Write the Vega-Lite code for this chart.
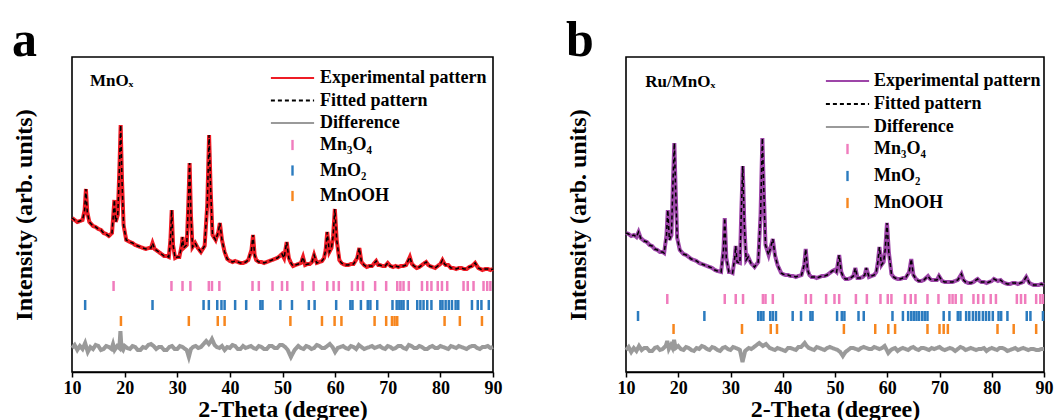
{
"$schema": "https://vega.github.io/schema/vega-lite/v6.json",
"padding": {"left": 11, "top": 15, "right": 2, "bottom": 0},
"spacing": 62,
"resolve": {"scale": {"stroke": "independent", "strokeDash": "independent", "color": "independent"}, "legend": {"stroke": "independent", "strokeDash": "independent", "color": "independent"}},
"config": {
 "font": "Liberation Serif",
 "view": {"stroke": "black", "strokeWidth": 1.6},
 "axis": {"labelFont": "Liberation Serif", "labelFontWeight": "bold", "labelFontSize": 18, "labelColor": "black", "titleFont": "Liberation Serif", "titleFontWeight": "bold", "titleFontSize": 24, "titleColor": "black", "grid": false, "domainColor": "black", "tickColor": "black", "domainWidth": 1.6, "tickWidth": 1.5},
 "title": {"font": "Liberation Serif", "fontWeight": "bold", "fontSize": 50, "color": "black", "anchor": "start", "frame": "bounds", "offset": -9}
},
"datasets": {
 "patA": [
{"t":10,"e":154},{"t":10.5,"e":152},{"t":11,"e":150},{"t":11.5,"e":151},{"t":12,"e":152},{"t":12.4,"e":162},{"t":12.65,"e":183},{"t":12.9,"e":160},{"t":13.3,"e":150},{"t":14,"e":146},{"t":14.5,"e":145},{"t":15,"e":143},{"t":15.5,"e":142},{"t":16,"e":139},{"t":16.5,"e":138},{"t":17,"e":136},{"t":17.6,"e":139},{"t":17.85,"e":157},{"t":18.05,"e":172},{"t":18.3,"e":150},{"t":18.7,"e":157},{"t":19.0,"e":202},{"t":19.25,"e":247},{"t":19.5,"e":192},{"t":19.8,"e":147},{"t":20.3,"e":132},{"t":21,"e":130},{"t":21.5,"e":129},{"t":22,"e":127},{"t":22.5,"e":126},{"t":23,"e":125},{"t":23.5,"e":124},{"t":24,"e":123},{"t":24.6,"e":124},{"t":25,"e":124},{"t":25.3,"e":129},{"t":25.7,"e":123},{"t":26.5,"e":120},{"t":27,"e":118},{"t":27.5,"e":116},{"t":28,"e":116},{"t":28.4,"e":115},{"t":28.7,"e":132},{"t":28.95,"e":162},{"t":29.2,"e":127},{"t":29.6,"e":114},{"t":30,"e":115},{"t":30.4,"e":115},{"t":30.85,"e":127},{"t":31.0,"e":135},{"t":31.2,"e":124},{"t":31.8,"e":127},{"t":32.1,"e":167},{"t":32.35,"e":209},{"t":32.6,"e":157},{"t":32.9,"e":125},{"t":33.4,"e":129},{"t":33.9,"e":124},{"t":34.5,"e":120},{"t":35.2,"e":126},{"t":35.7,"e":167},{"t":36.05,"e":237},{"t":36.35,"e":182},{"t":36.7,"e":137},{"t":37.3,"e":132},{"t":37.8,"e":140},{"t":38.1,"e":149},{"t":38.5,"e":132},{"t":39,"e":120},{"t":39.5,"e":113},{"t":40,"e":111},{"t":40.5,"e":110},{"t":41,"e":111},{"t":41.5,"e":110},{"t":42,"e":109},{"t":42.5,"e":109},{"t":43,"e":110},{"t":43.5,"e":112},{"t":44.1,"e":122},{"t":44.4,"e":137},{"t":44.7,"e":117},{"t":45,"e":112},{"t":45.5,"e":110},{"t":46,"e":110},{"t":46.5,"e":109},{"t":47,"e":110},{"t":47.5,"e":111},{"t":48,"e":112},{"t":48.5,"e":113},{"t":49,"e":114},{"t":49.5,"e":116},{"t":49.9,"e":118},{"t":50.3,"e":114},{"t":50.8,"e":130},{"t":51.2,"e":114},{"t":51.6,"e":109},{"t":52,"e":106},{"t":52.5,"e":107},{"t":53,"e":108},{"t":53.5,"e":109},{"t":53.9,"e":115},{"t":54.3,"e":107},{"t":54.8,"e":108},{"t":55.2,"e":108},{"t":55.6,"e":110},{"t":56.0,"e":117},{"t":56.5,"e":109},{"t":57,"e":110},{"t":57.5,"e":111},{"t":57.9,"e":114},{"t":58.2,"e":122},{"t":58.5,"e":140},{"t":58.9,"e":120},{"t":59.3,"e":124},{"t":59.6,"e":135},{"t":59.95,"e":163},{"t":60.3,"e":132},{"t":60.8,"e":112},{"t":61.2,"e":109},{"t":61.5,"e":108},{"t":62,"e":107},{"t":62.5,"e":107},{"t":63,"e":108},{"t":63.5,"e":108},{"t":64.2,"e":114},{"t":64.6,"e":124},{"t":65.0,"e":110},{"t":65.5,"e":107},{"t":66,"e":105},{"t":66.5,"e":106},{"t":67,"e":106},{"t":67.8,"e":111},{"t":68.2,"e":107},{"t":68.5,"e":107},{"t":69,"e":106},{"t":69.5,"e":106},{"t":70,"e":109},{"t":70.5,"e":106},{"t":71,"e":105},{"t":71.5,"e":106},{"t":72,"e":105},{"t":72.5,"e":106},{"t":73,"e":106},{"t":73.5,"e":107},{"t":74.2,"e":115},{"t":74.6,"e":108},{"t":75,"e":106},{"t":75.5,"e":104},{"t":76,"e":105},{"t":76.5,"e":107},{"t":77,"e":109},{"t":77.3,"e":110},{"t":77.7,"e":107},{"t":78,"e":106},{"t":78.5,"e":105},{"t":79,"e":104},{"t":79.5,"e":106},{"t":80,"e":108},{"t":80.4,"e":112},{"t":80.8,"e":108},{"t":81,"e":107},{"t":81.5,"e":107},{"t":82,"e":104},{"t":82.5,"e":104},{"t":83,"e":103},{"t":83.5,"e":104},{"t":84,"e":104},{"t":84.5,"e":103},{"t":85,"e":103},{"t":85.5,"e":105},{"t":86,"e":106},{"t":86.6,"e":109},{"t":87.2,"e":104},{"t":87.6,"e":103},{"t":88,"e":102},{"t":88.5,"e":103},{"t":89,"e":103},{"t":89.5,"e":102},{"t":90,"e":103}
 ],
 "diffA": [
{"t":10,"d":24},{"t":10.5,"d":27},{"t":11,"d":22},{"t":11.5,"d":26},{"t":12,"d":23},{"t":12.5,"d":29},{"t":13,"d":20},{"t":13.5,"d":25},{"t":14,"d":23},{"t":14.5,"d":27},{"t":15,"d":26},{"t":15.5,"d":22},{"t":16,"d":23},{"t":16.5,"d":26},{"t":17,"d":25},{"t":17.5,"d":23},{"t":17.8,"d":28},{"t":18.1,"d":22},{"t":18.6,"d":26},{"t":19.0,"d":24},{"t":19.2,"d":41},{"t":19.4,"d":24},{"t":19.7,"d":22},{"t":20,"d":26},{"t":20.5,"d":24},{"t":21,"d":23},{"t":21.5,"d":26},{"t":22,"d":25},{"t":22.5,"d":22},{"t":23,"d":22},{"t":23.5,"d":25},{"t":24,"d":24},{"t":24.5,"d":27},{"t":25,"d":28},{"t":25.5,"d":26},{"t":26,"d":23},{"t":26.5,"d":25},{"t":27,"d":25},{"t":27.5,"d":22},{"t":28,"d":22},{"t":28.5,"d":25},{"t":29,"d":26},{"t":29.5,"d":23},{"t":30,"d":23},{"t":30.5,"d":26},{"t":31,"d":25},{"t":31.5,"d":23},{"t":31.8,"d":22},{"t":32.2,"d":15},{"t":32.6,"d":23},{"t":33,"d":25},{"t":33.5,"d":26},{"t":34,"d":24},{"t":34.5,"d":25},{"t":35,"d":28},{"t":35.5,"d":31},{"t":36,"d":28},{"t":36.3,"d":30},{"t":36.6,"d":33},{"t":37.1,"d":27},{"t":37.5,"d":25},{"t":38,"d":24},{"t":38.5,"d":26},{"t":39,"d":22},{"t":39.5,"d":25},{"t":40,"d":24},{"t":40.5,"d":27},{"t":41,"d":26},{"t":41.5,"d":23},{"t":42,"d":23},{"t":42.5,"d":26},{"t":43,"d":24},{"t":43.5,"d":25},{"t":44,"d":26},{"t":44.5,"d":24},{"t":45,"d":23},{"t":45.5,"d":26},{"t":46,"d":25},{"t":46.5,"d":23},{"t":47,"d":23},{"t":47.5,"d":26},{"t":48,"d":26},{"t":48.5,"d":24},{"t":49,"d":24},{"t":49.5,"d":27},{"t":50,"d":27},{"t":50.5,"d":25},{"t":51,"d":22},{"t":51.6,"d":15},{"t":52,"d":19},{"t":52.3,"d":22},{"t":53,"d":26},{"t":53.5,"d":24},{"t":54,"d":23},{"t":54.5,"d":26},{"t":55,"d":25},{"t":55.5,"d":23},{"t":56,"d":24},{"t":56.5,"d":27},{"t":57,"d":26},{"t":57.5,"d":24},{"t":58,"d":24},{"t":58.5,"d":26},{"t":59,"d":28},{"t":59.5,"d":25},{"t":60,"d":20},{"t":60.5,"d":24},{"t":61,"d":25},{"t":61.5,"d":26},{"t":62,"d":24},{"t":62.5,"d":23},{"t":63,"d":26},{"t":63.5,"d":25},{"t":64,"d":23},{"t":64.5,"d":27},{"t":65,"d":25},{"t":65.5,"d":23},{"t":66,"d":24},{"t":66.5,"d":25},{"t":67,"d":26},{"t":67.5,"d":24},{"t":68,"d":25},{"t":68.5,"d":26},{"t":69,"d":24},{"t":69.5,"d":23},{"t":70,"d":26},{"t":70.5,"d":25},{"t":71,"d":23},{"t":71.5,"d":24},{"t":72,"d":26},{"t":72.5,"d":26},{"t":73,"d":24},{"t":73.5,"d":23},{"t":74,"d":27},{"t":74.5,"d":26},{"t":75,"d":24},{"t":75.5,"d":24},{"t":76,"d":26},{"t":76.5,"d":25},{"t":77,"d":23},{"t":77.5,"d":23},{"t":78,"d":25},{"t":78.5,"d":26},{"t":79,"d":24},{"t":79.5,"d":24},{"t":80,"d":26},{"t":80.5,"d":25},{"t":81,"d":24},{"t":81.5,"d":23},{"t":82,"d":26},{"t":82.5,"d":25},{"t":83,"d":24},{"t":83.5,"d":26},{"t":84,"d":25},{"t":84.5,"d":24},{"t":85,"d":23},{"t":85.5,"d":25},{"t":86,"d":26},{"t":86.5,"d":26},{"t":87,"d":24},{"t":87.5,"d":23},{"t":88,"d":25},{"t":88.5,"d":25},{"t":89,"d":26},{"t":89.5,"d":24},{"t":90,"d":25}
 ],
 "ticksA": [
{"p":"Mn₃O₄","t":17.9},{"p":"Mn₃O₄","t":28.9},{"p":"Mn₃O₄","t":31.0},{"p":"Mn₃O₄","t":32.5},{"p":"Mn₃O₄","t":36.0},{"p":"Mn₃O₄","t":36.6},{"p":"Mn₃O₄","t":38.0},{"p":"Mn₃O₄","t":44.3},{"p":"Mn₃O₄","t":45.5},{"p":"Mn₃O₄","t":48.1},{"p":"Mn₃O₄","t":49.9},{"p":"Mn₃O₄","t":50.9},{"p":"Mn₃O₄","t":53.8},{"p":"Mn₃O₄","t":55.9},{"p":"Mn₃O₄","t":58.5},{"p":"Mn₃O₄","t":59.7},{"p":"Mn₃O₄","t":60.7},{"p":"Mn₃O₄","t":63.2},{"p":"Mn₃O₄","t":64.3},{"p":"Mn₃O₄","t":65.3},{"p":"Mn₃O₄","t":67.6},{"p":"Mn₃O₄","t":69.7},{"p":"Mn₃O₄","t":71.8},{"p":"Mn₃O₄","t":72.4},{"p":"Mn₃O₄","t":73.0},{"p":"Mn₃O₄","t":74.0},{"p":"Mn₃O₄","t":76.5},{"p":"Mn₃O₄","t":77.5},{"p":"Mn₃O₄","t":78.3},{"p":"Mn₃O₄","t":79.5},{"p":"Mn₃O₄","t":80.3},{"p":"Mn₃O₄","t":81.3},{"p":"Mn₃O₄","t":84.4},{"p":"Mn₃O₄","t":85.2},{"p":"Mn₃O₄","t":86.3},{"p":"Mn₃O₄","t":88.2},{"p":"Mn₃O₄","t":88.9},{"p":"Mn₃O₄","t":89.5},
{"p":"MnO₂","t":12.5},{"p":"MnO₂","t":25.3},{"p":"MnO₂","t":35.0},{"p":"MnO₂","t":36.0},{"p":"MnO₂","t":37.6},{"p":"MnO₂","t":38.4},{"p":"MnO₂","t":39.0},{"p":"MnO₂","t":41.0},{"p":"MnO₂","t":43.1},{"p":"MnO₂","t":45.8},{"p":"MnO₂","t":46.2},{"p":"MnO₂","t":49.6},{"p":"MnO₂","t":51.8},{"p":"MnO₂","t":55.0},{"p":"MnO₂","t":56.1},{"p":"MnO₂","t":60.2},{"p":"MnO₂","t":62.9},{"p":"MnO₂","t":63.3},{"p":"MnO₂","t":64.9},{"p":"MnO₂","t":66.2},{"p":"MnO₂","t":66.7},{"p":"MnO₂","t":68.0},{"p":"MnO₂","t":70.9},{"p":"MnO₂","t":71.7},{"p":"MnO₂","t":72.2},{"p":"MnO₂","t":72.6},{"p":"MnO₂","t":73.0},{"p":"MnO₂","t":73.8},{"p":"MnO₂","t":75.6},{"p":"MnO₂","t":76.2},{"p":"MnO₂","t":76.8},{"p":"MnO₂","t":77.5},{"p":"MnO₂","t":78.3},{"p":"MnO₂","t":80.0},{"p":"MnO₂","t":80.4},{"p":"MnO₂","t":81.0},{"p":"MnO₂","t":81.6},{"p":"MnO₂","t":82.2},{"p":"MnO₂","t":82.9},{"p":"MnO₂","t":83.4},{"p":"MnO₂","t":86.0},{"p":"MnO₂","t":87.1},{"p":"MnO₂","t":87.8},{"p":"MnO₂","t":89.2},
{"p":"MnOOH","t":19.3},{"p":"MnOOH","t":32.2},{"p":"MnOOH","t":37.7},{"p":"MnOOH","t":39.0},{"p":"MnOOH","t":51.5},{"p":"MnOOH","t":57.5},{"p":"MnOOH","t":59.9},{"p":"MnOOH","t":61.2},{"p":"MnOOH","t":67.5},{"p":"MnOOH","t":69.7},{"p":"MnOOH","t":70.8},{"p":"MnOOH","t":71.3},{"p":"MnOOH","t":71.8},{"p":"MnOOH","t":80.8},{"p":"MnOOH","t":83.7},{"p":"MnOOH","t":87.9}
 ],
 "patB": [
{"t":10,"e":139},{"t":10.5,"e":138},{"t":11,"e":136},{"t":11.5,"e":137},{"t":12,"e":135},{"t":12.4,"e":140},{"t":12.8,"e":134},{"t":13.5,"e":131},{"t":14,"e":130},{"t":14.5,"e":127},{"t":15,"e":126},{"t":15.5,"e":123},{"t":16,"e":122},{"t":16.5,"e":120},{"t":17,"e":120},{"t":17.3,"e":119},{"t":17.75,"e":137},{"t":18.0,"e":162},{"t":18.3,"e":132},{"t":18.7,"e":137},{"t":19.0,"e":192},{"t":19.25,"e":229},{"t":19.5,"e":182},{"t":19.8,"e":134},{"t":20.3,"e":122},{"t":21,"e":118},{"t":21.5,"e":117},{"t":22,"e":115},{"t":22.5,"e":113},{"t":23,"e":112},{"t":23.5,"e":111},{"t":24,"e":109},{"t":24.5,"e":108},{"t":25,"e":107},{"t":25.5,"e":106},{"t":26,"e":105},{"t":26.5,"e":104},{"t":27,"e":102},{"t":27.5,"e":101},{"t":28.2,"e":100},{"t":28.65,"e":122},{"t":28.9,"e":154},{"t":29.2,"e":114},{"t":29.7,"e":100},{"t":30,"e":100},{"t":30.4,"e":99},{"t":30.8,"e":114},{"t":31.0,"e":126},{"t":31.25,"e":110},{"t":31.8,"e":109},{"t":32.05,"e":157},{"t":32.35,"e":206},{"t":32.65,"e":147},{"t":33.0,"e":112},{"t":33.4,"e":115},{"t":33.9,"e":109},{"t":34.6,"e":105},{"t":35.3,"e":110},{"t":35.75,"e":157},{"t":36.1,"e":234},{"t":36.4,"e":177},{"t":36.7,"e":127},{"t":37.3,"e":117},{"t":37.8,"e":127},{"t":38.1,"e":133},{"t":38.5,"e":117},{"t":39,"e":107},{"t":39.7,"e":99},{"t":40,"e":98},{"t":40.5,"e":97},{"t":41,"e":97},{"t":41.5,"e":96},{"t":42,"e":96},{"t":42.5,"e":95},{"t":43,"e":96},{"t":43.6,"e":97},{"t":44.1,"e":107},{"t":44.4,"e":123},{"t":44.75,"e":102},{"t":45.1,"e":97},{"t":45.5,"e":95},{"t":46,"e":95},{"t":46.5,"e":94},{"t":47,"e":95},{"t":47.5,"e":96},{"t":48,"e":96},{"t":48.5,"e":97},{"t":49,"e":99},{"t":49.5,"e":101},{"t":49.9,"e":102},{"t":50.3,"e":100},{"t":50.8,"e":117},{"t":51.2,"e":100},{"t":51.6,"e":95},{"t":52,"e":93},{"t":52.5,"e":93},{"t":53,"e":94},{"t":53.5,"e":96},{"t":53.9,"e":104},{"t":54.3,"e":94},{"t":54.8,"e":94},{"t":55.3,"e":95},{"t":55.7,"e":97},{"t":56.0,"e":104},{"t":56.5,"e":95},{"t":57,"e":96},{"t":57.5,"e":97},{"t":57.9,"e":100},{"t":58.2,"e":110},{"t":58.5,"e":125},{"t":58.9,"e":107},{"t":59.3,"e":110},{"t":59.6,"e":122},{"t":59.95,"e":149},{"t":60.3,"e":120},{"t":60.8,"e":98},{"t":61.2,"e":95},{"t":61.5,"e":94},{"t":62,"e":93},{"t":62.5,"e":93},{"t":63,"e":94},{"t":63.5,"e":94},{"t":64.2,"e":100},{"t":64.6,"e":113},{"t":65.0,"e":97},{"t":65.5,"e":93},{"t":66,"e":91},{"t":66.5,"e":91},{"t":67,"e":92},{"t":67.8,"e":96},{"t":68.2,"e":93},{"t":68.5,"e":92},{"t":69,"e":92},{"t":69.5,"e":92},{"t":69.9,"e":96},{"t":70.5,"e":91},{"t":71,"e":90},{"t":71.5,"e":90},{"t":72,"e":90},{"t":72.5,"e":90},{"t":73,"e":91},{"t":73.5,"e":92},{"t":74.2,"e":98},{"t":74.6,"e":92},{"t":75,"e":90},{"t":75.5,"e":89},{"t":76,"e":89},{"t":76.5,"e":90},{"t":77,"e":92},{"t":77.3,"e":93},{"t":77.7,"e":91},{"t":78,"e":90},{"t":78.5,"e":90},{"t":79,"e":89},{"t":79.5,"e":90},{"t":80,"e":91},{"t":80.4,"e":93},{"t":80.8,"e":92},{"t":81.2,"e":91},{"t":81.7,"e":92},{"t":82.1,"e":90},{"t":82.5,"e":89},{"t":83,"e":88},{"t":83.5,"e":88},{"t":84,"e":89},{"t":84.5,"e":89},{"t":85,"e":88},{"t":85.5,"e":89},{"t":86,"e":90},{"t":86.6,"e":95},{"t":87.2,"e":89},{"t":87.6,"e":88},{"t":88,"e":87},{"t":88.5,"e":87},{"t":89,"e":87},{"t":89.5,"e":88},{"t":90,"e":87}
 ],
 "diffB": [
{"t":10,"d":22},{"t":10.5,"d":25},{"t":11,"d":20},{"t":11.5,"d":24},{"t":12,"d":21},{"t":12.5,"d":26},{"t":13,"d":22},{"t":13.5,"d":24},{"t":14,"d":24},{"t":14.5,"d":21},{"t":15,"d":21},{"t":15.5,"d":24},{"t":16,"d":25},{"t":16.5,"d":22},{"t":17,"d":23},{"t":17.6,"d":26},{"t":17.9,"d":31},{"t":18.2,"d":23},{"t":18.6,"d":27},{"t":18.9,"d":24},{"t":19.2,"d":32},{"t":19.5,"d":24},{"t":20,"d":26},{"t":20.5,"d":23},{"t":21,"d":22},{"t":21.5,"d":25},{"t":22,"d":24},{"t":22.5,"d":22},{"t":23,"d":21},{"t":23.5,"d":24},{"t":24,"d":23},{"t":24.5,"d":26},{"t":25,"d":25},{"t":25.5,"d":23},{"t":26,"d":22},{"t":26.5,"d":25},{"t":27,"d":24},{"t":27.5,"d":22},{"t":28,"d":21},{"t":28.5,"d":24},{"t":29,"d":25},{"t":29.5,"d":23},{"t":30,"d":22},{"t":30.5,"d":25},{"t":31,"d":24},{"t":31.5,"d":23},{"t":31.8,"d":22},{"t":32.3,"d":10},{"t":32.8,"d":21},{"t":33.5,"d":24},{"t":34,"d":23},{"t":34.5,"d":25},{"t":35,"d":27},{"t":35.5,"d":29},{"t":36.2,"d":26},{"t":36.8,"d":28},{"t":37.5,"d":24},{"t":38,"d":23},{"t":38.5,"d":22},{"t":39,"d":24},{"t":39.5,"d":23},{"t":40,"d":22},{"t":40.5,"d":21},{"t":41,"d":24},{"t":41.5,"d":24},{"t":42,"d":23},{"t":42.5,"d":22},{"t":43,"d":25},{"t":43.5,"d":25},{"t":44.2,"d":29},{"t":44.6,"d":26},{"t":45,"d":24},{"t":45.5,"d":23},{"t":46,"d":22},{"t":46.5,"d":25},{"t":47,"d":24},{"t":47.5,"d":23},{"t":48,"d":22},{"t":48.5,"d":24},{"t":49,"d":25},{"t":49.5,"d":24},{"t":50,"d":23},{"t":50.5,"d":22},{"t":51,"d":20},{"t":51.5,"d":16},{"t":52,"d":20},{"t":52.5,"d":22},{"t":53,"d":24},{"t":53.5,"d":24},{"t":54,"d":23},{"t":54.5,"d":22},{"t":55,"d":24},{"t":55.5,"d":25},{"t":56,"d":24},{"t":56.5,"d":23},{"t":57,"d":23},{"t":57.5,"d":25},{"t":58,"d":24},{"t":58.5,"d":23},{"t":59,"d":24},{"t":59.5,"d":26},{"t":60.2,"d":19},{"t":60.7,"d":22},{"t":61,"d":23},{"t":61.5,"d":24},{"t":62,"d":21},{"t":62.5,"d":23},{"t":63,"d":24},{"t":63.5,"d":23},{"t":64,"d":22},{"t":64.5,"d":24},{"t":65,"d":25},{"t":65.5,"d":23},{"t":66,"d":22},{"t":66.5,"d":24},{"t":67,"d":24},{"t":67.5,"d":23},{"t":68,"d":22},{"t":68.5,"d":24},{"t":69,"d":23},{"t":69.5,"d":24},{"t":70,"d":25},{"t":70.5,"d":23},{"t":71,"d":22},{"t":71.5,"d":23},{"t":72,"d":24},{"t":72.5,"d":23},{"t":73,"d":21},{"t":73.5,"d":23},{"t":74,"d":25},{"t":74.5,"d":24},{"t":75,"d":22},{"t":75.5,"d":23},{"t":76,"d":24},{"t":76.5,"d":23},{"t":77,"d":22},{"t":77.5,"d":23},{"t":78,"d":23},{"t":78.5,"d":24},{"t":79,"d":21},{"t":79.5,"d":23},{"t":80,"d":24},{"t":80.5,"d":23},{"t":81,"d":22},{"t":81.5,"d":24},{"t":82,"d":24},{"t":82.5,"d":23},{"t":83,"d":21},{"t":83.5,"d":22},{"t":84,"d":23},{"t":84.5,"d":24},{"t":85,"d":22},{"t":85.5,"d":23},{"t":86,"d":24},{"t":86.5,"d":23},{"t":87,"d":22},{"t":87.5,"d":23},{"t":88,"d":23},{"t":88.5,"d":22},{"t":89,"d":22},{"t":89.5,"d":23},{"t":90,"d":23}
 ],
 "ticksB": [
{"p":"Mn₃O₄","t":17.9},{"p":"Mn₃O₄","t":28.9},{"p":"Mn₃O₄","t":31.0},{"p":"Mn₃O₄","t":32.4},{"p":"Mn₃O₄","t":36.2},{"p":"Mn₃O₄","t":36.7},{"p":"Mn₃O₄","t":38.1},{"p":"Mn₃O₄","t":44.4},{"p":"Mn₃O₄","t":45.4},{"p":"Mn₃O₄","t":48.3},{"p":"Mn₃O₄","t":49.9},{"p":"Mn₃O₄","t":50.8},{"p":"Mn₃O₄","t":54.0},{"p":"Mn₃O₄","t":56.1},{"p":"Mn₃O₄","t":58.7},{"p":"Mn₃O₄","t":60.1},{"p":"Mn₃O₄","t":60.8},{"p":"Mn₃O₄","t":63.4},{"p":"Mn₃O₄","t":64.5},{"p":"Mn₃O₄","t":65.4},{"p":"Mn₃O₄","t":67.7},{"p":"Mn₃O₄","t":69.8},{"p":"Mn₃O₄","t":71.9},{"p":"Mn₃O₄","t":72.5},{"p":"Mn₃O₄","t":73.1},{"p":"Mn₃O₄","t":74.2},{"p":"Mn₃O₄","t":76.5},{"p":"Mn₃O₄","t":77.4},{"p":"Mn₃O₄","t":78.4},{"p":"Mn₃O₄","t":79.8},{"p":"Mn₃O₄","t":80.8},{"p":"Mn₃O₄","t":84.8},{"p":"Mn₃O₄","t":85.6},{"p":"Mn₃O₄","t":86.4},{"p":"Mn₃O₄","t":88.5},{"p":"Mn₃O₄","t":89.3},{"p":"Mn₃O₄","t":89.8},
{"p":"MnO₂","t":12.3},{"p":"MnO₂","t":25.0},{"p":"MnO₂","t":35.3},{"p":"MnO₂","t":35.8},{"p":"MnO₂","t":36.3},{"p":"MnO₂","t":37.6},{"p":"MnO₂","t":38.1},{"p":"MnO₂","t":38.7},{"p":"MnO₂","t":41.9},{"p":"MnO₂","t":43.5},{"p":"MnO₂","t":45.3},{"p":"MnO₂","t":45.7},{"p":"MnO₂","t":50.4},{"p":"MnO₂","t":51.3},{"p":"MnO₂","t":51.8},{"p":"MnO₂","t":54.5},{"p":"MnO₂","t":55.5},{"p":"MnO₂","t":61.0},{"p":"MnO₂","t":63.0},{"p":"MnO₂","t":64.0},{"p":"MnO₂","t":64.6},{"p":"MnO₂","t":65.1},{"p":"MnO₂","t":65.6},{"p":"MnO₂","t":66.1},{"p":"MnO₂","t":66.7},{"p":"MnO₂","t":67.2},{"p":"MnO₂","t":67.7},{"p":"MnO₂","t":70.8},{"p":"MnO₂","t":71.9},{"p":"MnO₂","t":73.5},{"p":"MnO₂","t":74.0},{"p":"MnO₂","t":75.1},{"p":"MnO₂","t":75.7},{"p":"MnO₂","t":76.4},{"p":"MnO₂","t":77.0},{"p":"MnO₂","t":77.6},{"p":"MnO₂","t":78.3},{"p":"MnO₂","t":78.9},{"p":"MnO₂","t":79.5},{"p":"MnO₂","t":80.2},{"p":"MnO₂","t":81.3},{"p":"MnO₂","t":81.8},{"p":"MnO₂","t":83.0},{"p":"MnO₂","t":86.7},{"p":"MnO₂","t":87.4},{"p":"MnO₂","t":89.8},
{"p":"MnOOH","t":19.1},{"p":"MnOOH","t":32.2},{"p":"MnOOH","t":37.7},{"p":"MnOOH","t":38.9},{"p":"MnOOH","t":51.7},{"p":"MnOOH","t":57.7},{"p":"MnOOH","t":60.2},{"p":"MnOOH","t":61.5},{"p":"MnOOH","t":67.7},{"p":"MnOOH","t":70.0},{"p":"MnOOH","t":70.8},{"p":"MnOOH","t":71.6},{"p":"MnOOH","t":81.1},{"p":"MnOOH","t":84.2},{"p":"MnOOH","t":88.5}
 ]
},
"hconcat": [
 {
  "width": 421, "height": 315,
  "title": {"text": "a"},
  "layer": [
   {"data": {"name": "patA"}, "mark": {"type": "line", "strokeWidth": 4},
    "encoding": {
     "x": {"field": "t", "type": "quantitative", "scale": {"domain": [10, 90], "nice": false}, "axis": {"title": "2-Theta (degree)", "values": [10,20,30,40,50,60,70,80,90], "tickSize": 5, "labelPadding": 2, "titlePadding": 0, "labelFlush": false}},
     "y": {"field": "e", "type": "quantitative", "scale": {"domain": [0, 315], "nice": false}, "axis": {"title": "Intensity (arb. units)", "labels": false, "ticks": false, "domain": false, "titlePadding": 36}},
     "stroke": {"datum": "Experimental pattern", "scale": {"domain": ["Experimental pattern", "Fitted pattern", "Difference"], "range": ["#ee1c25", "#000000", "#9a9a9a"]},
       "legend": {"orient": "none", "legendX": 211.5, "legendY": 12, "title": null, "symbolType": "M-3.6,0H3.6", "symbolSize": 144, "symbolStrokeWidth": 2, "labelFont": "Liberation Serif", "labelFontWeight": "bold", "labelFontSize": 18, "labelColor": "black", "labelOffset": 18.5, "rowPadding": 4.5, "padding": 0, "labelLimit": 300}},
     "strokeDash": {"datum": "Experimental pattern", "scale": {"domain": ["Experimental pattern", "Fitted pattern", "Difference"], "range": [[1, 0], [4, 3], [1, 0]]},
       "legend": {"orient": "none", "legendX": 211.5, "legendY": 12, "title": null, "symbolType": "M-3.6,0H3.6", "symbolSize": 144, "symbolStrokeWidth": 2, "labelFont": "Liberation Serif", "labelFontWeight": "bold", "labelFontSize": 18, "labelColor": "black", "labelOffset": 18.5, "rowPadding": 4.5, "padding": 0, "labelLimit": 300}}
    }},
   {"data": {"name": "patA"}, "mark": {"type": "line", "strokeWidth": 1.5},
    "encoding": {"x": {"field": "t", "type": "quantitative"}, "y": {"field": "e", "type": "quantitative"}, "stroke": {"datum": "Fitted pattern"}, "strokeDash": {"datum": "Fitted pattern"}}},
   {"data": {"name": "diffA"}, "mark": {"type": "line", "strokeWidth": 4},
    "encoding": {"x": {"field": "t", "type": "quantitative"}, "y": {"field": "d", "type": "quantitative"}, "stroke": {"datum": "Difference"}, "strokeDash": {"datum": "Difference"}}},
   {"data": {"name": "ticksA"}, "transform": [{"filter": {"field": "p", "equal": "Mn₃O₄"}}], "mark": {"type": "tick", "orient": "vertical", "size": 10, "thickness": 2.5, "opacity": 1},
    "encoding": {"x": {"field": "t", "type": "quantitative"}, "y": {"datum": 86, "type": "quantitative"},
     "color": {"datum": "Mn₃O₄", "scale": {"domain": ["Mn₃O₄", "MnO₂", "MnOOH"], "range": ["#f07cbd", "#2b7bbf", "#f7861e"]},
       "legend": {"orient": "none", "legendX": 211.5, "legendY": 79, "title": null, "symbolType": "M-0.2,-0.85H0.2V0.85H-0.2Z", "symbolSize": 144, "symbolStrokeWidth": 0, "labelFont": "Liberation Serif", "labelFontWeight": "bold", "labelFontSize": 18, "labelColor": "black", "labelOffset": 18.5, "rowPadding": 7.5, "padding": 0, "labelLimit": 300}}}},
   {"data": {"name": "ticksA"}, "transform": [{"filter": {"field": "p", "equal": "MnO₂"}}], "mark": {"type": "tick", "orient": "vertical", "size": 10, "thickness": 2.5, "opacity": 1},
    "encoding": {"x": {"field": "t", "type": "quantitative"}, "y": {"datum": 67, "type": "quantitative"}, "color": {"datum": "MnO₂"}}},
   {"data": {"name": "ticksA"}, "transform": [{"filter": {"field": "p", "equal": "MnOOH"}}], "mark": {"type": "tick", "orient": "vertical", "size": 10, "thickness": 2.5, "opacity": 1},
    "encoding": {"x": {"field": "t", "type": "quantitative"}, "y": {"datum": 51, "type": "quantitative"}, "color": {"datum": "MnOOH"}}},
   {"data": {"values": [{"label": "MnOₓ"}]}, "mark": {"type": "text", "align": "left", "baseline": "alphabetic", "font": "Liberation Serif", "fontWeight": "bold", "fontSize": 17, "color": "black"},
    "encoding": {"x": {"datum": 13.4, "type": "quantitative"}, "y": {"datum": 286, "type": "quantitative"}, "text": {"field": "label"}}}
  ]
 },
 {
  "width": 418, "height": 315,
  "title": {"text": "b"},
  "layer": [
   {"data": {"name": "patB"}, "mark": {"type": "line", "strokeWidth": 4},
    "encoding": {
     "x": {"field": "t", "type": "quantitative", "scale": {"domain": [10, 90], "nice": false}, "axis": {"title": "2-Theta (degree)", "values": [10,20,30,40,50,60,70,80,90], "tickSize": 5, "labelPadding": 2, "titlePadding": 0, "labelFlush": false}},
     "y": {"field": "e", "type": "quantitative", "scale": {"domain": [0, 315], "nice": false}, "axis": {"title": "Intensity (arb. units)", "labels": false, "ticks": false, "domain": false, "titlePadding": 36}},
     "stroke": {"datum": "Experimental pattern", "scale": {"domain": ["Experimental pattern", "Fitted pattern", "Difference"], "range": ["#9d45a8", "#000000", "#9a9a9a"]},
       "legend": {"orient": "none", "legendX": 212.5, "legendY": 15, "title": null, "symbolType": "M-3.6,0H3.6", "symbolSize": 144, "symbolStrokeWidth": 2, "labelFont": "Liberation Serif", "labelFontWeight": "bold", "labelFontSize": 18, "labelColor": "black", "labelOffset": 17.5, "rowPadding": 5, "padding": 0, "labelLimit": 300}},
     "strokeDash": {"datum": "Experimental pattern", "scale": {"domain": ["Experimental pattern", "Fitted pattern", "Difference"], "range": [[1, 0], [4, 3], [1, 0]]},
       "legend": {"orient": "none", "legendX": 212.5, "legendY": 15, "title": null, "symbolType": "M-3.6,0H3.6", "symbolSize": 144, "symbolStrokeWidth": 2, "labelFont": "Liberation Serif", "labelFontWeight": "bold", "labelFontSize": 18, "labelColor": "black", "labelOffset": 17.5, "rowPadding": 5, "padding": 0, "labelLimit": 300}}
    }},
   {"data": {"name": "patB"}, "mark": {"type": "line", "strokeWidth": 1.5},
    "encoding": {"x": {"field": "t", "type": "quantitative"}, "y": {"field": "e", "type": "quantitative"}, "stroke": {"datum": "Fitted pattern"}, "strokeDash": {"datum": "Fitted pattern"}}},
   {"data": {"name": "diffB"}, "mark": {"type": "line", "strokeWidth": 4},
    "encoding": {"x": {"field": "t", "type": "quantitative"}, "y": {"field": "d", "type": "quantitative"}, "stroke": {"datum": "Difference"}, "strokeDash": {"datum": "Difference"}}},
   {"data": {"name": "ticksB"}, "transform": [{"filter": {"field": "p", "equal": "Mn₃O₄"}}], "mark": {"type": "tick", "orient": "vertical", "size": 10, "thickness": 2.5, "opacity": 1},
    "encoding": {"x": {"field": "t", "type": "quantitative"}, "y": {"datum": 73, "type": "quantitative"},
     "color": {"datum": "Mn₃O₄", "scale": {"domain": ["Mn₃O₄", "MnO₂", "MnOOH"], "range": ["#f07cbd", "#2b7bbf", "#f7861e"]},
       "legend": {"orient": "none", "legendX": 212.5, "legendY": 83, "title": null, "symbolType": "M-0.2,-0.85H0.2V0.85H-0.2Z", "symbolSize": 144, "symbolStrokeWidth": 0, "labelFont": "Liberation Serif", "labelFontWeight": "bold", "labelFontSize": 18, "labelColor": "black", "labelOffset": 17.5, "rowPadding": 9, "padding": 0, "labelLimit": 300}}}},
   {"data": {"name": "ticksB"}, "transform": [{"filter": {"field": "p", "equal": "MnO₂"}}], "mark": {"type": "tick", "orient": "vertical", "size": 10, "thickness": 2.5, "opacity": 1},
    "encoding": {"x": {"field": "t", "type": "quantitative"}, "y": {"datum": 56, "type": "quantitative"}, "color": {"datum": "MnO₂"}}},
   {"data": {"name": "ticksB"}, "transform": [{"filter": {"field": "p", "equal": "MnOOH"}}], "mark": {"type": "tick", "orient": "vertical", "size": 10, "thickness": 2.5, "opacity": 1},
    "encoding": {"x": {"field": "t", "type": "quantitative"}, "y": {"datum": 43, "type": "quantitative"}, "color": {"datum": "MnOOH"}}},
   {"data": {"values": [{"label": "Ru/MnOₓ"}]}, "mark": {"type": "text", "align": "left", "baseline": "alphabetic", "font": "Liberation Serif", "fontWeight": "bold", "fontSize": 17, "color": "black"},
    "encoding": {"x": {"datum": 13.7, "type": "quantitative"}, "y": {"datum": 285, "type": "quantitative"}, "text": {"field": "label"}}}
  ]
 }
]
}
